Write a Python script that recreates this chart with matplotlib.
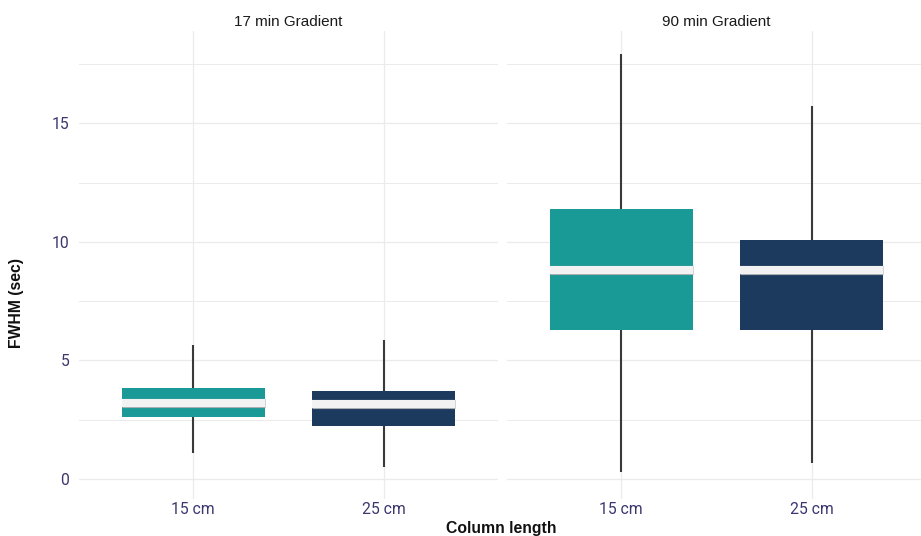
import matplotlib
matplotlib.use("Agg")
import matplotlib.pyplot as plt
import matplotlib.patheffects as pe

# FWHM summary statistics per gradient length and column length
gradients = ["17 min Gradient", "90 min Gradient"]
columns = ["15 cm", "25 cm"]
whisker_low = [[1.08, 0.52], [0.28, 0.66]]
quartile_1 = [[2.61, 2.23], [6.28, 6.28]]
medians = [[3.22, 3.18], [8.81, 8.81]]
quartile_3 = [[3.84, 3.71], [11.39, 10.08]]
whisker_high = [[5.64, 5.86], [17.93, 15.74]]
fill_colors = ["#1a9a96", "#1c395e"]

tick_color = "#3b3670"
grid_color = "#ebebeb"

W, H = 921, 536
fig = plt.figure(figsize=(W / 100, H / 100), dpi=100)

panel_left = [79, 507]
panel_w = 419
panel_top, panel_bottom = 31, 499

axes = []
for p, gname in enumerate(gradients):
    ax = fig.add_axes([panel_left[p] / W, 1 - panel_bottom / H,
                       panel_w / W, (panel_bottom - panel_top) / H])
    axes.append(ax)
    stats = []
    for c, cname in enumerate(columns):
        stats.append(dict(label=cname,
                          whislo=whisker_low[p][c], q1=quartile_1[p][c],
                          med=medians[p][c], q3=quartile_3[p][c],
                          whishi=whisker_high[p][c], fliers=[]))
    positions = list(range(1, len(columns) + 1))
    bp = ax.bxp(stats, positions=positions, widths=0.75, patch_artist=True,
                showcaps=False, showfliers=False,
                whiskerprops=dict(color="#3a3a3a", linewidth=1.5,
                                  solid_capstyle="butt"),
                medianprops=dict(color="#f2f2f2", linewidth=5.8,
                                 solid_capstyle="butt",
                                 path_effects=[pe.Stroke(linewidth=6.6,
                                                         foreground="#a7adb2",
                                                         capstyle="butt"),
                                               pe.Normal()]))
    for box, col in zip(bp["boxes"], fill_colors):
        box.set_facecolor(col)
        box.set_edgecolor("none")
        box.set_linewidth(0)
        box.set_zorder(2)
    for m in bp["medians"]:
        m.set_zorder(3)
    for wl in bp["whiskers"]:
        wl.set_zorder(2)

    ax.set_xlim(0.4, 2.6)
    ax.set_ylim(-0.84, 18.89)
    ax.set_xticks(positions)
    ax.set_xticklabels(columns)
    ax.set_yticks([0, 5, 10, 15])
    ax.set_yticks([2.5, 7.5, 12.5, 17.5], minor=True)
    ax.set_axisbelow(True)
    ax.grid(True, which="major", color=grid_color, linewidth=0.9)
    ax.grid(True, which="minor", axis="y", color=grid_color, linewidth=0.7)
    for s in ax.spines.values():
        s.set_visible(False)
    ax.tick_params(which="both", length=0)
    ax.tick_params(axis="x", pad=2, labelcolor=tick_color, labelsize=11.3)
    ax.tick_params(axis="y", pad=7, labelcolor=tick_color, labelsize=11.3)
    for lab in ax.get_xticklabels() + ax.get_yticklabels():
        lab.set_fontfamily(["Roboto", "DejaVu Sans"])
        lab.set_fontweight("normal")
    if p > 0:
        ax.set_yticklabels([])
    ax.text(0.5, 1 + 5 / (panel_bottom - panel_top), gname,
            transform=ax.transAxes, ha="center", va="baseline",
            fontsize=11, family=["Liberation Sans", "DejaVu Sans"],
            color="#1a1a1a")

fig.text(501 / W, 1 - 533.5 / H, "Column length", ha="center", va="baseline",
         fontsize=11.3, fontweight="bold",
         family=["Liberation Sans", "DejaVu Sans"], color="#111111")
fig.text(17 / W, 1 - 303 / H, "FWHM (sec)", ha="center", va="center",
         rotation=90, fontsize=11.3, fontweight="bold",
         family=["Liberation Sans", "DejaVu Sans"], color="#111111")

fig.savefig("out.png", dpi=100)
